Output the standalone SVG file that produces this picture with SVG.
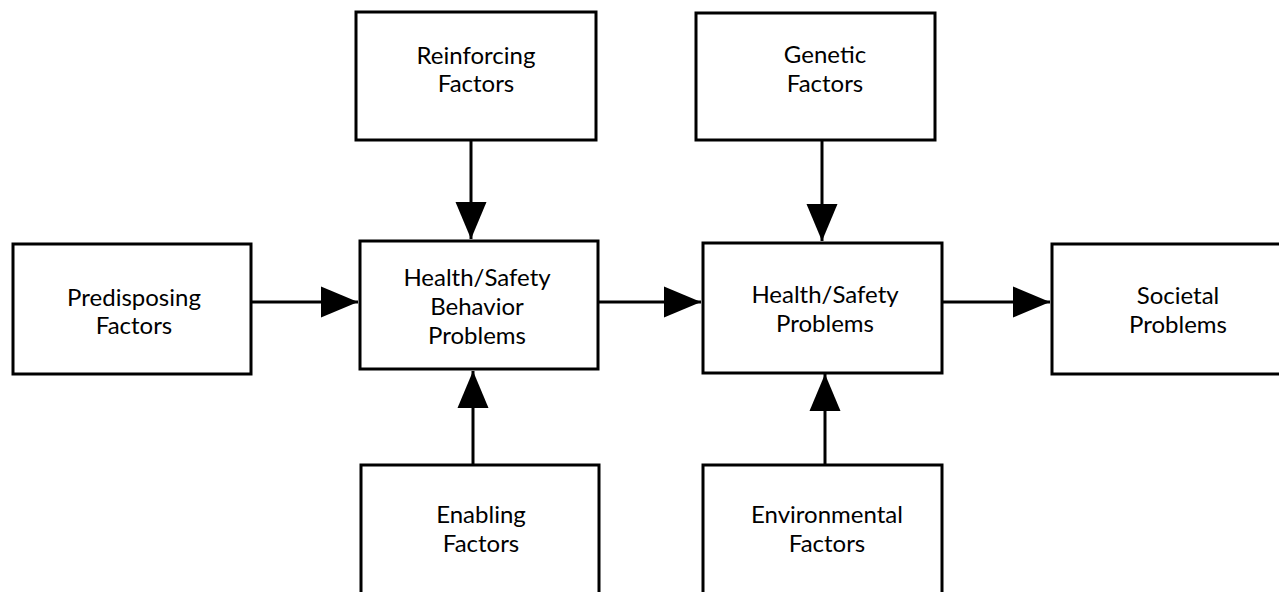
<svg xmlns="http://www.w3.org/2000/svg" width="1279" height="592" viewBox="0 0 1279 592">
<style>
.box{fill:#fff;stroke:#000;stroke-width:3}
.lbl{font-family:Lato,"Liberation Sans",sans-serif;font-size:24px;fill:#000;text-anchor:middle}
.edge{stroke:#000;stroke-width:3;fill:none;marker-end:url(#ah)}
</style>
<defs>
<marker id="ah" markerUnits="userSpaceOnUse" markerWidth="38" markerHeight="32" viewBox="0 0 38 32" refX="37" refY="16" orient="auto">
<path d="M0,0.5 L37,16 L0,31.5 z" fill="#000"/>
</marker>
</defs>
<rect width="1279" height="592" fill="#fff"/>
<g id="connectors">
<line class="edge" x1="251" y1="302" x2="358" y2="302"/>
<line class="edge" x1="598" y1="302" x2="701" y2="302"/>
<line class="edge" x1="942" y1="302" x2="1050" y2="302"/>
<line class="edge" x1="471" y1="140" x2="471" y2="239"/>
<line class="edge" x1="822" y1="140" x2="822" y2="241"/>
<line class="edge" x1="473" y1="465" x2="473" y2="371"/>
<line class="edge" x1="825" y1="465" x2="825" y2="374"/>
</g>
<g id="predisposing">
<rect class="box" x="13" y="244" width="238" height="130"/>
<text class="lbl" x="134" y="306">Predisposing</text>
<text class="lbl" x="134" y="334">Factors</text>
</g>
<g id="reinforcing">
<rect class="box" x="356" y="12" width="240" height="128"/>
<text class="lbl" x="476" y="64">Reinforcing</text>
<text class="lbl" x="476" y="92">Factors</text>
</g>
<g id="behavior">
<rect class="box" x="360" y="241" width="238" height="128"/>
<text class="lbl" x="477" y="286">Health/Safety</text>
<text class="lbl" x="477" y="315">Behavior</text>
<text class="lbl" x="477" y="344">Problems</text>
</g>
<g id="enabling">
<rect class="box" x="361" y="465" width="238" height="140"/>
<text class="lbl" x="481" y="523">Enabling</text>
<text class="lbl" x="481" y="552">Factors</text>
</g>
<g id="genetic">
<rect class="box" x="696" y="13" width="239" height="127"/>
<text class="lbl" x="825" y="63">Genetic</text>
<text class="lbl" x="825" y="92">Factors</text>
</g>
<g id="health-safety">
<rect class="box" x="703" y="243" width="239" height="130"/>
<text class="lbl" x="825" y="303">Health/Safety</text>
<text class="lbl" x="825" y="332">Problems</text>
</g>
<g id="environmental">
<rect class="box" x="703" y="465" width="239" height="140"/>
<text class="lbl" x="827" y="523">Environmental</text>
<text class="lbl" x="827" y="552">Factors</text>
</g>
<g id="societal">
<rect class="box" x="1052" y="244" width="240" height="130"/>
<text class="lbl" x="1178" y="304">Societal</text>
<text class="lbl" x="1178" y="333">Problems</text>
</g>
</svg>
